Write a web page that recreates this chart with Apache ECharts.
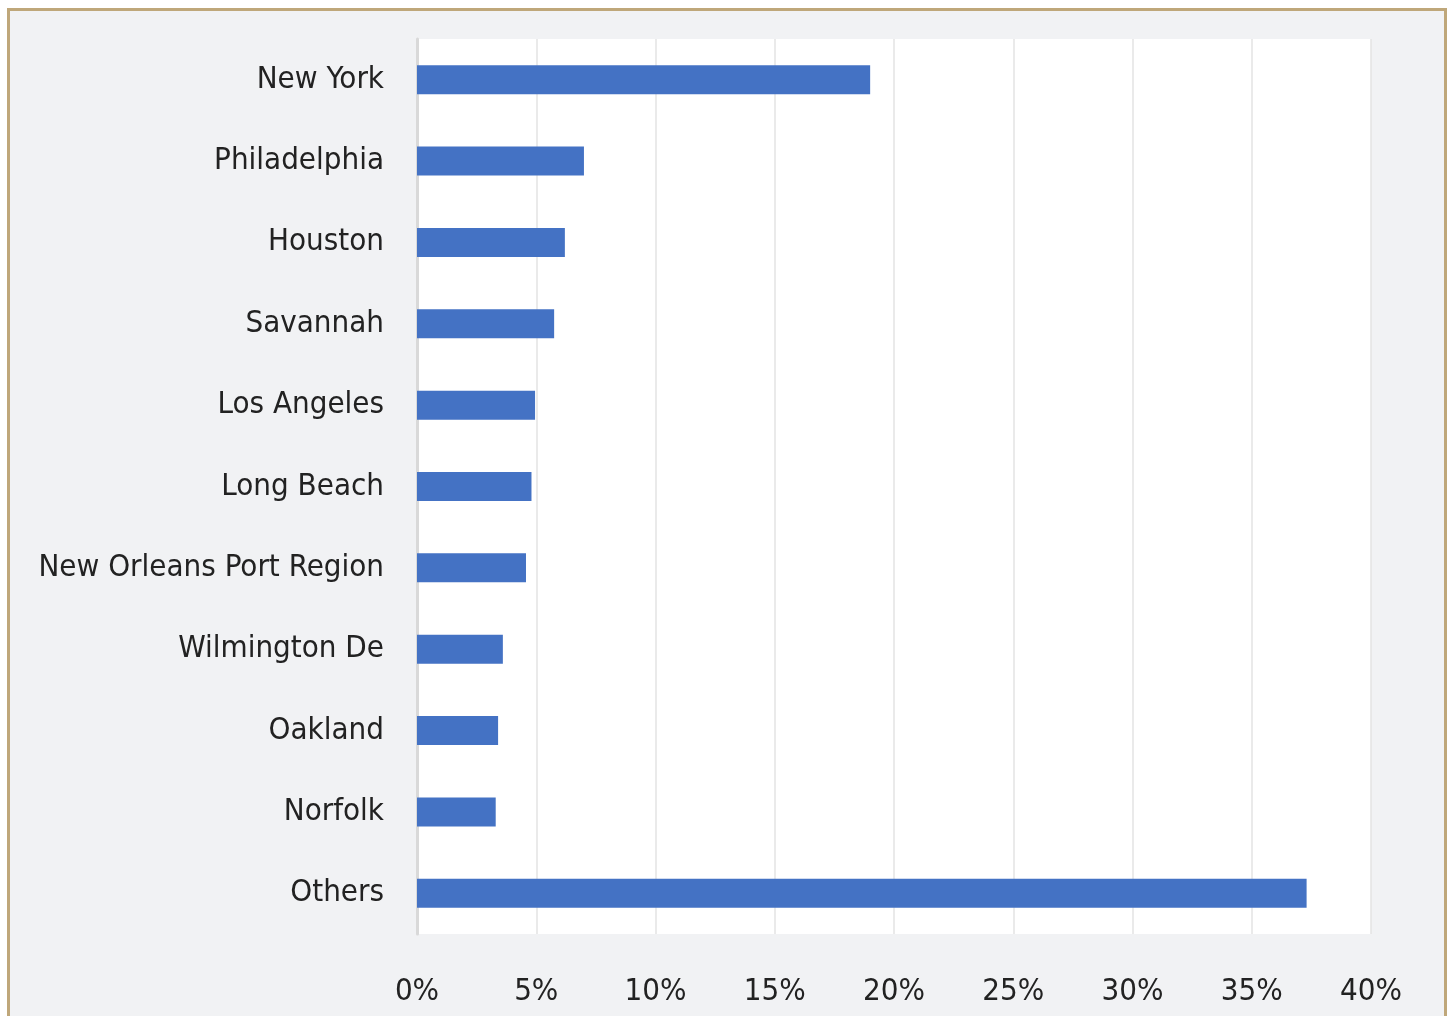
<!DOCTYPE html>
<html>
<head>
<meta charset="utf-8">
<script src="https://cdn.jsdelivr.net/npm/echarts@6/dist/echarts.min.js"></script>
<style>
  html, body { margin: 0; padding: 0; background: #ffffff; overflow: hidden; }
  .frame {
    position: absolute; left: 7px; top: 8px; width: 1434px; height: 1030px;
    border: 3px solid #bfa77a; background: #f1f2f4;
  }
  #chart { position: absolute; left: 0; top: 0; width: 1447px; height: 1016px; }
</style>
</head>
<body>
<div class="frame"></div>
<div id="chart"></div>
<script>
// ports and their share
const ports = ["New York", "Philadelphia", "Houston", "Savannah", "Los Angeles", "Long Beach",
  "New Orleans Port Region", "Wilmington De", "Oakland", "Norfolk", "Others"];
const shares = [19.0, 7.0, 6.2, 5.75, 4.95, 4.8, 4.57, 3.6, 3.4, 3.3, 37.3];
const xTicks = [0, 5, 10, 15, 20, 25, 30, 35, 40];

const font = "'Liberation Sans Narrow', 'DejaVu Sans Condensed', sans-serif";
const myChart = echarts.init(document.getElementById("chart"));
const chartOption = {
  animation: false,
  backgroundColor: "transparent",
  grid: {
    left: 417, right: 76, top: 39, bottom: 82,
    show: true, backgroundColor: "#ffffff", borderWidth: 0
  },
  xAxis: {
    type: "value",
    min: xTicks[0],
    max: xTicks[xTicks.length - 1],
    interval: 5,
    axisLine: { show: false },
    axisTick: { show: false },
    splitLine: { show: true, lineStyle: { color: "#e3e3e3", width: 1.5 } },
    axisLabel: {
      formatter: v => v + "%",
      color: "#222222",
      fontFamily: font,
      fontSize: 31,
      margin: 42
    }
  },
  yAxis: {
    type: "category",
    data: ports,
    inverse: true,
    axisLine: { show: true, lineStyle: { color: "#d9d9d9", width: 3 } },
    axisTick: { show: false },
    axisLabel: {
      color: "#222222",
      fontFamily: font,
      fontSize: 31,
      margin: 33
    }
  },
  series: [
    {
      type: "bar",
      data: shares,
      barWidth: 29,
      itemStyle: { color: "#4472c4" }
    }
  ]
};
myChart.setOption(chartOption);
</script>
</body>
</html>
